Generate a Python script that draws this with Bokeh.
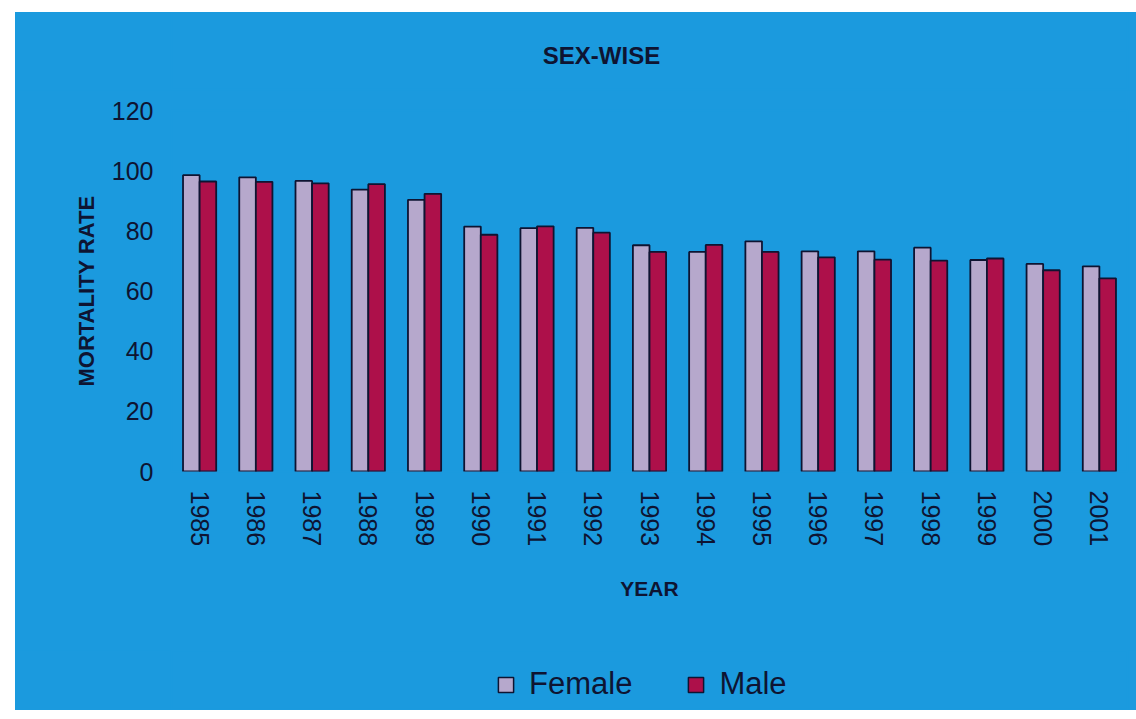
import math
from bokeh.plotting import figure
from bokeh.layouts import column
from bokeh.models import ColumnDataSource, FactorRange, Legend, LegendItem, FixedTicker, Label
from bokeh.transform import dodge
from bokeh.embed import file_html
from bokeh.resources import INLINE

# Mortality rate by sex, 1985-2001
years = ["1985", "1986", "1987", "1988", "1989", "1990", "1991", "1992", "1993",
         "1994", "1995", "1996", "1997", "1998", "1999", "2000", "2001"]
female = [98.5, 97.8, 96.6, 93.7, 90.3, 81.4, 80.9, 81.0, 75.2,
          73.0, 76.5, 73.2, 73.2, 74.4, 70.3, 69.0, 68.2]
male = [96.4, 96.3, 95.8, 95.5, 92.3, 78.7, 81.5, 79.4, 73.0,
        75.3, 73.0, 71.2, 70.4, 70.1, 70.8, 66.9, 64.2]
y_ticks = [0, 20, 40, 60, 80, 100, 120]
series_names = ["Female", "Male"]
chart_title = "SEX-WISE"

BG = "#1b9ade"
FEMALE_C = "#b6a8cc"
MALE_C = "#ad104a"
INK = "#0e1432"
SANS = "'Liberation Sans', Arial, sans-serif"

src = ColumnDataSource(dict(year=years, female=female, male=male))
bw = 0.295


def blue_figure(**kw):
    return figure(output_backend="svg", toolbar_location=None,
                  background_fill_color=BG, border_fill_color=BG,
                  outline_line_color=BG, outline_line_width=2, **kw)


def strip(height):
    f = blue_figure(width=1121, height=height,
                    x_range=FactorRange(*years, range_padding=0), y_range=(0, 120),
                    min_border=0)
    f.axis.visible = False
    f.grid.visible = False
    return f


# Title strip
pt = strip(78)
pt.add_layout(Label(x=430, y=35, x_units="screen", y_units="screen", text=chart_title,
                    text_font=SANS, text_font_style="bold", text_font_size="24px",
                    text_color=INK, text_align="center", text_baseline="middle"))

# Main chart
p = blue_figure(
    x_range=FactorRange(*years, range_padding=0),
    y_range=(0, 120),
    width=1121, height=560,
    min_border_left=156, min_border_right=9,
    min_border_top=20, min_border_bottom=179,
)

p.vbar(x=dodge("year", -bw / 2, range=p.x_range), top="female", width=bw,
       bottom=0, source=src, fill_color=FEMALE_C, line_color=INK, line_width=1.8)
p.vbar(x=dodge("year", bw / 2, range=p.x_range), top="male", width=bw,
       bottom=0, source=src, fill_color=MALE_C, line_color=INK, line_width=1.8)

p.xgrid.visible = False
p.ygrid.visible = False

for ax in (p.xaxis[0], p.yaxis[0]):
    ax.axis_line_color = None
    ax.major_tick_line_color = None
    ax.minor_tick_line_color = None
    ax.major_tick_out = 0
    ax.major_tick_in = 0
    ax.major_label_text_color = INK
    ax.major_label_text_font = SANS
    ax.major_label_text_font_size = "25px"
    ax.axis_label_text_color = INK
    ax.axis_label_text_font = SANS
    ax.axis_label_text_font_style = "bold"

p.yaxis.ticker = FixedTicker(ticks=y_ticks)
p.yaxis.major_label_standoff = 18
p.yaxis.axis_label = "MORTALITY RATE"
p.yaxis.axis_label_text_font_size = "22px"
p.yaxis.axis_label_standoff = 10

p.xaxis.major_label_orientation = -math.pi / 2
p.xaxis.major_label_standoff = 19
p.xaxis.axis_label = "YEAR"
p.xaxis.axis_label_text_font_size = "21px"
p.xaxis.axis_label_standoff = 28

# Legend strip; its key renderers stay hidden and only feed the legend
pl = strip(60)
key_f = pl.vbar(x=dodge("year", -bw / 2, range=pl.x_range), top="female", width=bw,
                source=src, fill_color=FEMALE_C, line_color=INK, line_width=1.5,
                visible=False)
key_m = pl.vbar(x=dodge("year", bw / 2, range=pl.x_range), top="male", width=bw,
                source=src, fill_color=MALE_C, line_color=INK, line_width=1.5,
                visible=False)

legend = Legend(
    items=[LegendItem(label=series_names[0], renderers=[key_f]),
           LegendItem(label=series_names[1], renderers=[key_m])],
    orientation="horizontal", location=(325, 8),
    background_fill_alpha=0, border_line_color=None,
    inactive_fill_alpha=0,
    label_text_font=SANS, label_text_font_size="31px", label_text_color=INK,
    glyph_width=19, glyph_height=19, label_standoff=14, spacing=54,
    padding=0, margin=0,
)
pl.add_layout(legend, "center")

layout = column(pt, p, pl, spacing=0, margin=(12, 0, 9, 15),
                styles={"background-color": BG})
open("out.html", "w").write(file_html(layout, INLINE))
